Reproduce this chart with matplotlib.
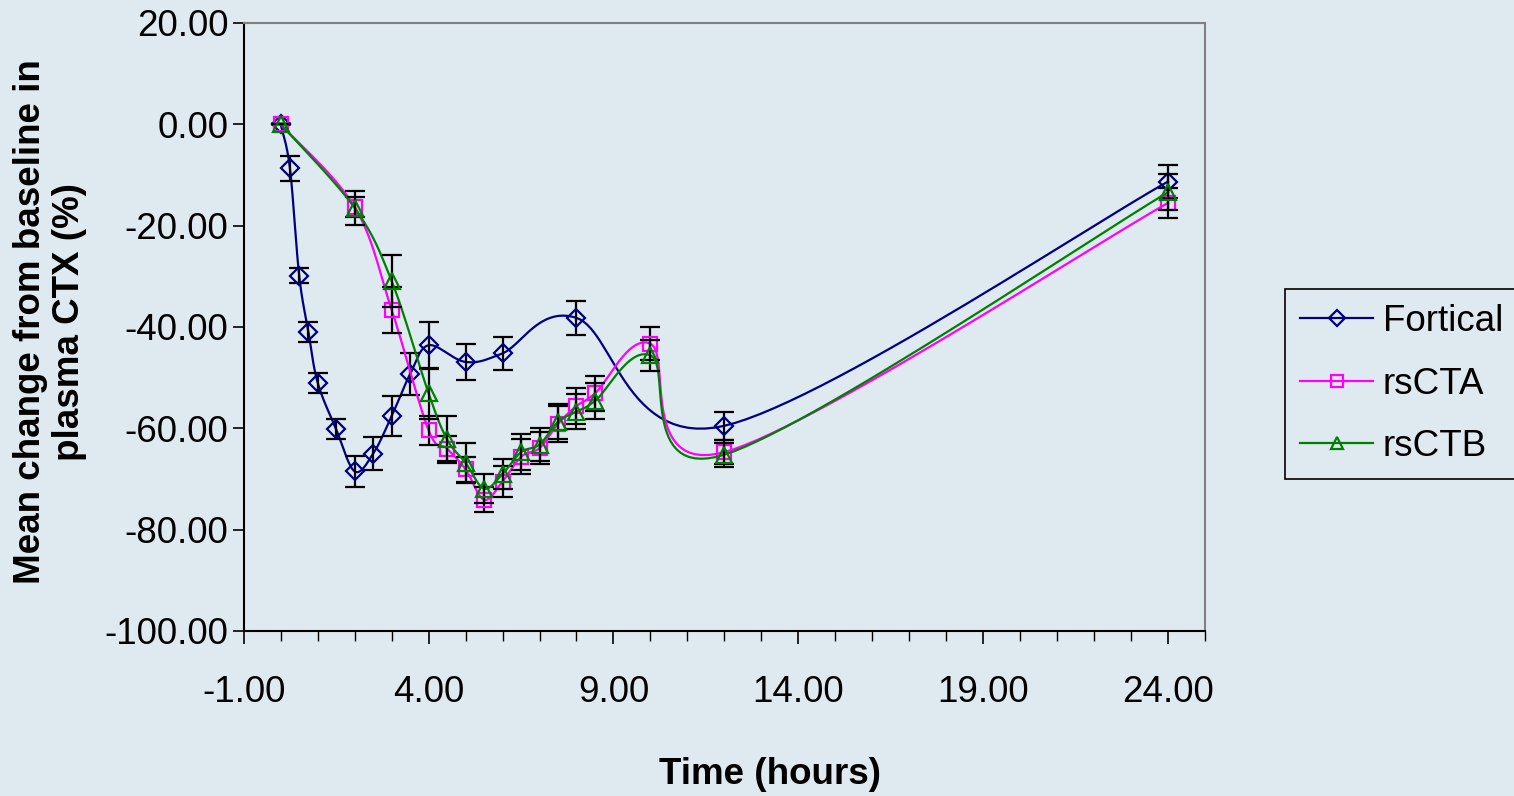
import numpy as np
import matplotlib
matplotlib.use("Agg")
import matplotlib.pyplot as plt
from matplotlib.ticker import MultipleLocator, FormatStrFormatter

plt.rcParams['font.family'] = ['Liberation Sans', 'DejaVu Sans']

# Data
t_fort = [0, 0.25, 0.5, 0.75, 1, 1.5, 2, 2.5, 3, 3.5, 4, 5, 6, 8, 12, 24]
fortical = [0, -8.7, -29.9, -41.0, -51.0, -60.2, -68.5, -65.0, -57.6, -49.3, -43.6, -46.9, -45.2, -38.2, -59.5, -11.3]
fortical_err = [0, 2.4, 1.5, 2.0, 2.0, 2.0, 3.0, 3.3, 3.9, 4.1, 4.6, 3.6, 3.3, 3.3, 2.8, 3.3]

t_rs = [0, 2, 3, 4, 4.5, 5, 5.5, 6, 6.5, 7, 7.5, 8, 8.5, 10, 12, 24]
rscta = [0, -16.3, -36.6, -60.4, -64.0, -68.1, -74.1, -70.5, -65.6, -63.9, -59.1, -55.6, -53.1, -43.3, -64.7, -15.5]
rscta_err = [0, 2.0, 4.5, 2.8, 2.5, 2.5, 2.5, 3.0, 3.5, 3.2, 3.5, 3.5, 3.5, 3.3, 2.4, 3.0]
rsctb = [0, -16.5, -30.9, -53.1, -62.2, -66.8, -71.9, -69.0, -64.7, -63.2, -58.7, -56.7, -54.6, -45.6, -65.2, -13.4]
rsctb_err = [0, 3.3, 5.2, 5.0, 4.6, 3.9, 2.8, 3.0, 3.5, 3.2, 3.5, 3.5, 3.5, 3.1, 2.4, 3.5]

bg = '#dfe9f0'
fs = 26.5


def smooth(x, y, n=30):
    # Excel-like smoothed line (bezier with 1/6 tangents)
    x = np.asarray(x, float)
    y = np.asarray(y, float)
    p = np.column_stack([x, y])
    out = [p[0]]
    for i in range(len(p) - 1):
        p0 = p[i - 1] if i > 0 else p[i]
        p1 = p[i]
        p2 = p[i + 1]
        p3 = p[i + 2] if i + 2 < len(p) else p[i + 1]
        c1 = p1 + (p2 - p0) / 6.0
        c2 = p2 - (p3 - p1) / 6.0
        s = np.linspace(0, 1, n)[1:, None]
        seg = (1 - s) ** 3 * p1 + 3 * (1 - s) ** 2 * s * c1 + 3 * (1 - s) * s ** 2 * c2 + s ** 3 * p2
        out.extend(seg)
    out = np.array(out)
    return out[:, 0], out[:, 1]


fig = plt.figure(figsize=(15.14, 7.96), dpi=100, facecolor=bg)
ax = fig.add_axes([243.75 / 1514, 1 - 631 / 796, (1205 - 243.75) / 1514, (631 - 23) / 796])
ax.set_facecolor(bg)

series = [
    (t_fort, fortical, fortical_err, '#000080', 'D', 9, 'Fortical'),
    (t_rs, rscta, rscta_err, '#ff00ff', 's', 10.5, 'rsCTA'),
    (t_rs, rsctb, rsctb_err, '#008000', '^', 11, 'rsCTB'),
]

handles = []
for k, (t, v, e, c, m, ms, name) in enumerate(series):
    sx, sy = smooth(t, v)
    ax.plot(sx, sy, color=c, lw=1.6, zorder=2 + k)
    ax.errorbar(t, v, yerr=e, fmt='none', ecolor='black', elinewidth=1.6,
                capsize=7, capthick=1.6, zorder=2 + k)
    ax.plot(t, v, ls='none', marker=m, ms=ms, mfc='none', mec=c, mew=1.6, zorder=2 + k)
    h, = ax.plot([], [], color=c, lw=1.6, marker=m, ms=ms * 0.85, mfc='none', mec=c, mew=1.6, label=name)
    handles.append(h)

ax.set_xlim(-1, 25)
ax.set_ylim(-100, 20)
ax.xaxis.set_minor_locator(MultipleLocator(1))
ax.yaxis.set_major_locator(MultipleLocator(20))
ax.set_xticks([-1, 4, 9, 14, 19, 24])
ax.xaxis.set_major_formatter(FormatStrFormatter('%.2f'))
ax.yaxis.set_major_formatter(FormatStrFormatter('%.2f'))
ax.tick_params(axis='x', which='major', direction='out', length=9, width=1.2, labelsize=fs, pad=23)
ax.tick_params(axis='x', which='minor', direction='out', length=7, width=1.0)
ax.tick_params(axis='y', which='major', direction='out', length=8, width=1.2, labelsize=fs, pad=3)

for side in ['top', 'right']:
    ax.spines[side].set_color('#808080')
    ax.spines[side].set_linewidth(1.5)
for side in ['left', 'bottom']:
    ax.spines[side].set_color('black')
    ax.spines[side].set_linewidth(1.5)

fig.text(50 / 1514, 1 - 322 / 796, 'Mean change from baseline in\nplasma CTX (%)',
         rotation=90, ha='center', va='center', ma='center', fontsize=fs,
         fontweight='bold', linespacing=1.12)
fig.text(770 / 1514, 1 - 775 / 796, 'Time (hours)', ha='center', va='center',
         fontsize=fs, fontweight='bold')

leg = fig.legend(handles=handles, loc='center left', bbox_to_anchor=(1285 / 1514, 1 - 384 / 796),
                 fontsize=fs, frameon=True, fancybox=False, edgecolor='black',
                 facecolor=bg, framealpha=1, handlelength=2.0, handletextpad=0.25,
                 labelspacing=0.75, borderpad=0.4, borderaxespad=0)
leg.get_frame().set_linewidth(1.2)

fig.savefig('out.png', dpi=100, facecolor=bg)
